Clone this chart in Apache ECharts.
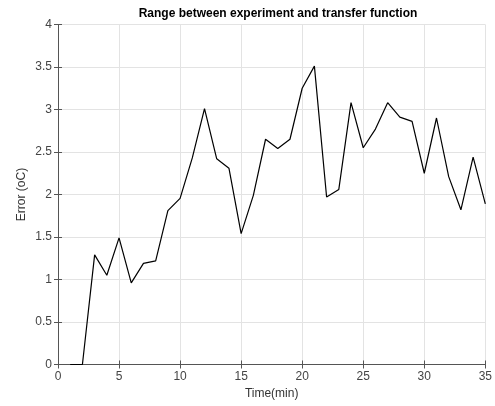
<!DOCTYPE html>
<html>
<head>
<meta charset="utf-8">
<script src="https://cdn.jsdelivr.net/npm/echarts@6/dist/echarts.min.js"></script>
<style>html,body{margin:0;padding:0;background:#fff}#main{width:495px;height:406px}</style>
</head>
<body>
<div id="main"></div>
<script>
var times = [1,2,3,4,5,6,7,8,9,10,11,12,13,14,15,16,17,18,19,20,21,22,23,24,25,26,27,28,29,30,31,32,33,34,35];
var errors = [0,0,1.29,1.05,1.49,0.96,1.19,1.22,1.81,1.955,2.43,3.01,2.42,2.31,1.54,1.99,2.65,2.54,2.65,3.25,3.51,1.97,2.06,3.08,2.55,2.77,3.08,2.91,2.86,2.25,2.90,2.21,1.82,2.44,1.89];
var xTicks = [0,5,10,15,20,25,30,35];
var yTicks = [0,0.5,1,1.5,2,2.5,3,3.5,4];

var dom = document.getElementById('main');
var myChart = echarts.init(dom);
var font = 'Liberation Sans, Arial, sans-serif';
var axisCol = '#555';
var gridCol = '#e3e3e3';

var points = times.map(function (t, i) { return [t, errors[i]]; });

var option = {
    animation: false,
    title: {
        text: 'Range between experiment and transfer function',
        left: 273, top: 3, textAlign: 'center',
        textStyle: { fontFamily: font, fontSize: 12, fontWeight: 'bold', color: '#000' }
    },
    grid: { left: 58, right: 6, top: 24.5, bottom: 41.5, containLabel: false },
    xAxis: [{
        type: 'value', min: 0, max: 35, interval: 5,
        name: 'Time(min)', nameLocation: 'middle', nameGap: 21,
        nameTextStyle: { fontFamily: font, fontSize: 12, color: '#333' },
        axisLine: { show: true, lineStyle: { color: axisCol } },
        axisTick: { show: true, inside: true, length: 4, lineStyle: { color: axisCol } },
        axisLabel: { fontFamily: font, fontSize: 12, color: '#444', margin: 6,
            formatter: function (v) { return xTicks.indexOf(v) >= 0 ? String(v) : ''; } },
        splitLine: { show: true, lineStyle: { color: gridCol } }
    }, {
        type: 'value', position: 'top', min: 0, max: 35, interval: 5,
        axisLine: { show: true, lineStyle: { color: axisCol } },
        axisTick: { show: true, inside: true, length: 4, lineStyle: { color: axisCol } },
        axisLabel: { show: false }, splitLine: { show: false }
    }],
    yAxis: [{
        type: 'value', min: 0, max: 4, interval: 0.5,
        name: 'Error (oC)', nameLocation: 'middle', nameGap: 30, nameMoveOverlap: false,
        nameTextStyle: { fontFamily: font, fontSize: 12, color: '#333' },
        axisLine: { show: true, lineStyle: { color: axisCol } },
        axisTick: { show: true, inside: true, length: 4, lineStyle: { color: axisCol } },
        axisLabel: { fontFamily: font, fontSize: 12, color: '#444', margin: 6,
            formatter: function (v) { return yTicks.indexOf(v) >= 0 ? String(v) : ''; } },
        splitLine: { show: true, lineStyle: { color: gridCol } }
    }, {
        type: 'value', position: 'right', min: 0, max: 4, interval: 0.5,
        axisLine: { show: true, lineStyle: { color: axisCol } },
        axisTick: { show: true, inside: true, length: 4, lineStyle: { color: axisCol } },
        axisLabel: { show: false }, splitLine: { show: false }
    }],
    series: [{
        type: 'line',
        data: points,
        symbol: 'none',
        lineStyle: { color: '#000', width: 1.2 }
    }]
};
myChart.setOption(option);
</script>
</body>
</html>
